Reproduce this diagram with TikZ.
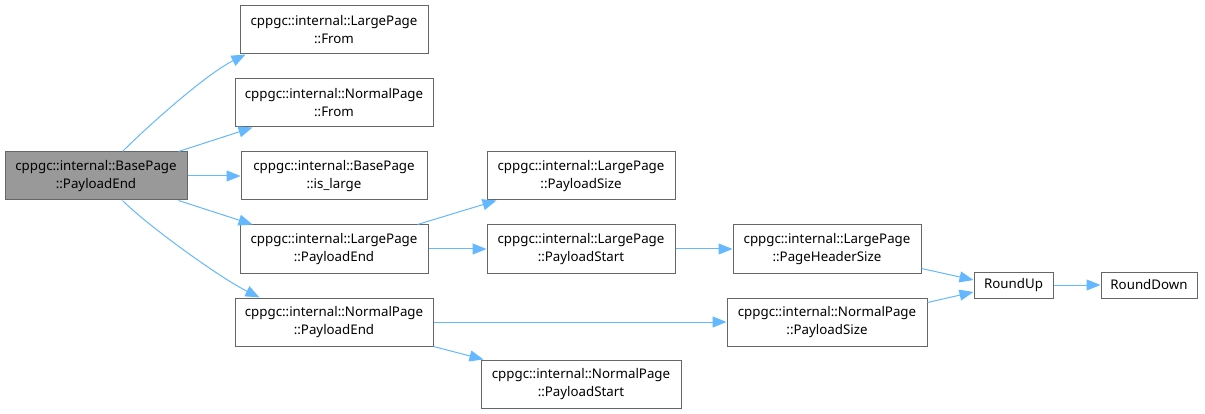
\documentclass[tikz,border=0pt]{standalone}
\usepackage{fontspec}
\setmainfont{Noto Sans}
\usetikzlibrary{arrows.meta,calc}
\definecolor{edgec}{HTML}{63B8FF}
\definecolor{boxc}{HTML}{666666}
\definecolor{basec}{HTML}{999999}
\tikzset{
  box/.style={draw=boxc, line width=1pt, fill=white, align=center, inner sep=0pt,
    minimum height=48pt, font=\fontsize{13.3}{18}\selectfont, text=black},
  edge/.style={draw=edgec, line width=1pt, -{Triangle[length=14pt,width=11pt]}}
}
\begin{document}
\begin{tikzpicture}[x=1pt,y=-1pt]
\useasboundingbox (0,0) rectangle (1205,414);
\node[box, fill=basec, minimum width=182pt] (base) at (96,176) {cppgc::internal::BasePage\\::PayloadEnd};
\node[box, minimum width=188pt] (lpfrom) at (334,30) {cppgc::internal::LargePage\\::From};
\node[box, minimum width=198pt] (npfrom) at (334,103) {cppgc::internal::NormalPage\\::From};
\node[box, minimum width=186pt] (islarge) at (334,176) {cppgc::internal::BasePage\\::is\_large};
\node[box, minimum width=188pt] (lpend) at (334,249) {cppgc::internal::LargePage\\::PayloadEnd};
\node[box, minimum width=198pt] (npend) at (334,322) {cppgc::internal::NormalPage\\::PayloadEnd};
\node[box, minimum width=188pt] (lpsize) at (581,176) {cppgc::internal::LargePage\\::PayloadSize};
\node[box, minimum width=188pt] (lpstart) at (581,249) {cppgc::internal::LargePage\\::PayloadStart};
\node[box, minimum width=200pt] (npstart) at (581,384) {cppgc::internal::NormalPage\\::PayloadStart};
\node[box, minimum width=188pt] (phsize) at (827,249) {cppgc::internal::LargePage\\::PageHeaderSize};
\node[box, minimum width=200pt] (npsize) at (827,322) {cppgc::internal::NormalPage\\::PayloadSize};
\node[box, minimum width=79pt, minimum height=26pt] (roundup) at (1013.5,285) {RoundUp};
\node[box, minimum width=96pt, minimum height=26pt] (rounddown) at (1149,285) {RoundDown};

\draw[edge] ($(base.north west)+(118,0)$) .. controls +(25,-25) and +(-40,20) .. ($(lpfrom.south west)+(6,0)$);
\draw[edge] ($(base.north east)+(-9,0)$) -- ($(npfrom.south west)+(18,0)$);
\draw[edge] (base.east) -- (islarge.west);
\draw[edge] ($(base.south east)+(-9,0)$) -- ($(lpend.north west)+(13,0)$);
\draw[edge] ($(base.south west)+(118,0)$) .. controls +(25,25) and +(-40,-20) .. ($(npend.north west)+(25,0)$);
\draw[edge] ($(lpend.north east)+(-11,0)$) -- ($(lpsize.south west)+(10,0)$);
\draw[edge] (lpend.east) -- (lpstart.west);
\draw[edge] (lpstart.east) -- (phsize.west);
\draw[edge] (npend.east) -- (npsize.west);
\draw[edge] (npend.south east) -- ($(npstart.north west)+(3,0)$);
\draw[edge] ($(phsize.south east)+(0,-5)$) -- ($(roundup.west)+(0,-5)$);
\draw[edge] ($(npsize.north east)+(0,5)$) -- ($(roundup.west)+(0,7)$);
\draw[edge] (roundup.east) -- (rounddown.west);
\end{tikzpicture}
\end{document}
